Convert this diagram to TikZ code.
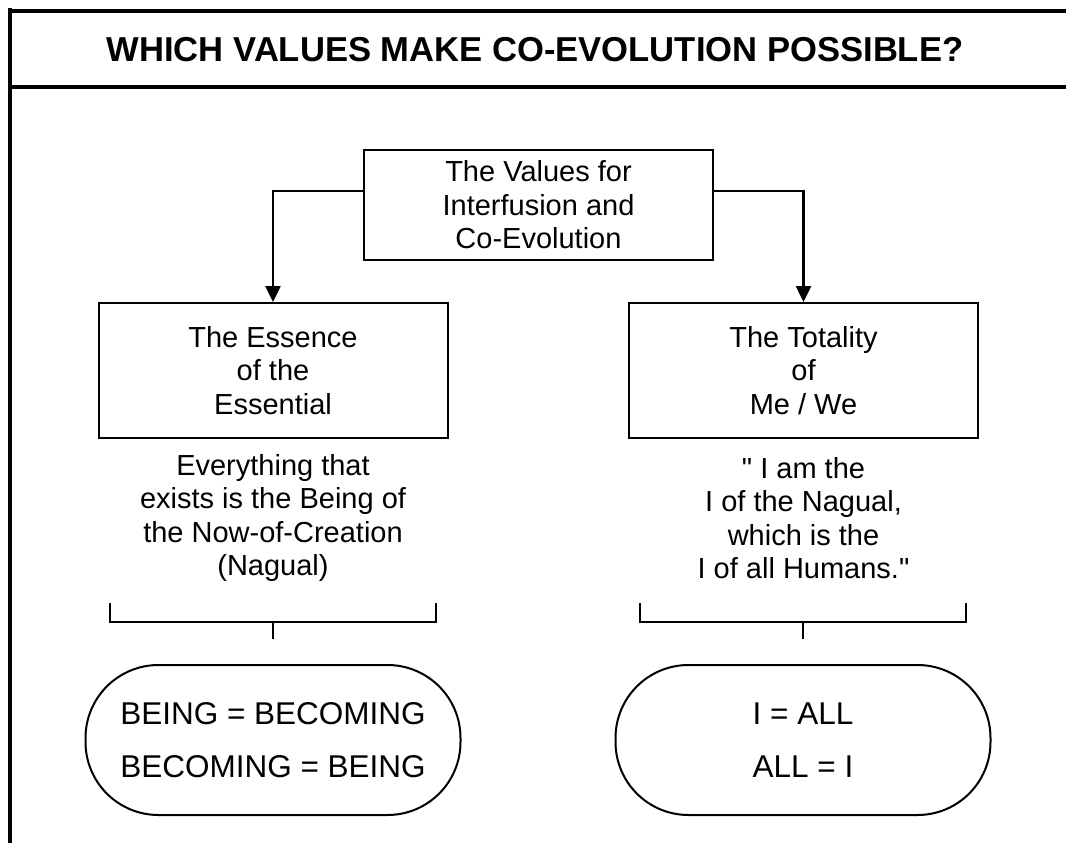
\documentclass[tikz,border=0pt]{standalone}
\usepackage{fontspec}
\setmainfont{Liberation Sans}[Ligatures=TeXOff]
\usetikzlibrary{arrows.meta}

\tikzset{
	frame/.style={line width=4pt},
	valbox/.style={draw, line width=2pt, align=center, inner sep=0pt, minimum width=349pt, font=\fontsize{29}{33.4}\selectfont},
	txt/.style={align=center, inner sep=0pt, font=\fontsize{29}{33.4}\selectfont},
	pill/.style={draw, line width=2pt, rounded corners=73pt, align=center, inner sep=0pt, minimum width=375pt, minimum height=150pt, font=\fontsize{31.5}{53}\selectfont},
	arr/.style={line width=2.5pt, -{Triangle[width=15pt,length=16pt]}},
	brk/.style={line width=2pt}
}

\begin{document}
\begin{tikzpicture}[x=1pt,y=-1pt]
		\useasboundingbox (0,0) rectangle (1066,843);
		% outer frame and header
		\draw[frame] (9.5,843) -- (9.5,8) ;
		\draw[frame] (7.5,11) -- (1066,11);
		\draw[frame] (9.5,87) -- (1066,87);
		\node[font=\bfseries\fontsize{34.6}{40}\selectfont] (title) at (535,50) {WHICH VALUES MAKE CO-EVOLUTION POSSIBLE?};
		% boxes
		\node[valbox, minimum height=110pt] (values) at (538.5,205) {The Values for\\Interfusion and\\Co-Evolution};
		\node[valbox, minimum height=135pt] (essence) at (273,370.5) {The Essence\\of the\\Essential};
		\node[valbox, minimum height=135pt] (totality) at (803.5,370.5) {The Totality\\of\\Me / We};
		\draw[arr] ([yshift=14pt]values.west) -| (essence.north);
		\draw[arr] ([yshift=14pt]values.east) -| (totality.north);
		% texts under the boxes
		\node[txt] (nagual) at (273,518) {Everything that\\exists is the Being of\\the Now-of-Creation\\(Nagual)};
		\node[txt] (humans) at (803.5,518) {" I am the\\I of the Nagual,\\which is the\\I of all Humans."};
		% brackets
		\coordinate (lbr) at (273,622);
		\coordinate (rbr) at (803,622);
		\coordinate (lstub) at (273,639);
		\coordinate (rstub) at (803,639);
		\draw[brk] (lbr) ++(-163,-19) -- ++(0,19) -- ++(326,0) -- ++(0,-19);
		\draw[brk] (lbr) -- (lstub);
		\draw[brk] (rbr) ++(-163,-19) -- ++(0,19) -- ++(326,0) -- ++(0,-19);
		\draw[brk] (rbr) -- (rstub);
		% equations
		\node[pill] (being) at (273,740) {BEING = BECOMING\\BECOMING = BEING};
		\node[pill] (all) at (803,740) {I = ALL\\ALL = I};
	\end{tikzpicture}
\end{document}
